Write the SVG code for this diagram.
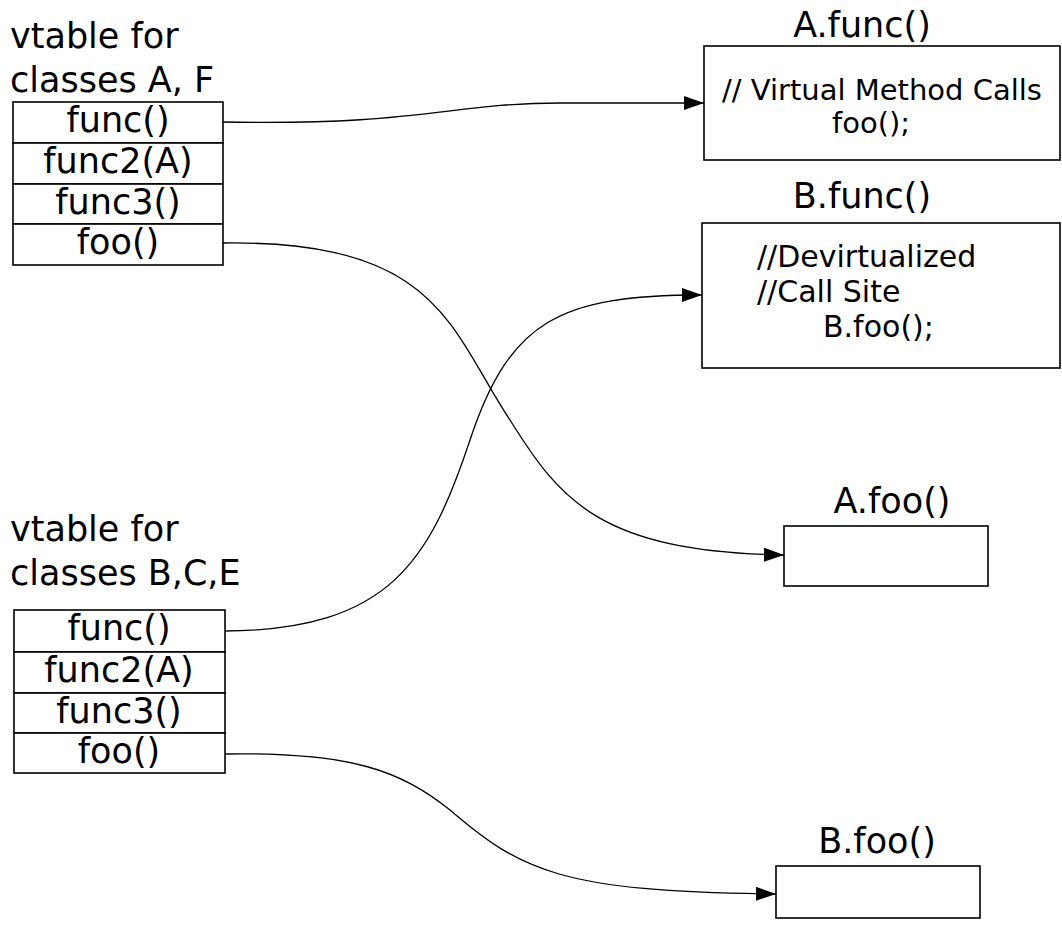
<svg xmlns="http://www.w3.org/2000/svg" width="1062" height="925" viewBox="0 0 1062 925">
<style>
text{font-family:"DejaVu Sans","Liberation Sans",sans-serif;fill:#000}
.t{font-size:35px}
.c{text-anchor:middle}
.box{fill:#fff;stroke:#000;stroke-width:1.6}
.con{fill:none;stroke:#000;stroke-width:1.3}
.b1{font-size:29px}
.b2{font-size:30px}
</style>
<defs>
<marker id="ah" viewBox="0 0 20 14" refX="20" refY="7" markerWidth="20" markerHeight="14" markerUnits="userSpaceOnUse" orient="auto">
<path d="M0,0 L20,7 L0,14 Z" fill="#000"/>
</marker>
</defs>
<rect width="1062" height="925" fill="#fff"/>
<g id="vtableAF">
<text class="t" x="10" y="48">vtable for</text>
<text class="t" x="10" y="92">classes A, F</text>
<rect class="box" x="13" y="102" width="210" height="41"/>
<rect class="box" x="13" y="143" width="210" height="41"/>
<rect class="box" x="13" y="184" width="210" height="40"/>
<rect class="box" x="13" y="224" width="210" height="41"/>
<text class="t c" x="118" y="132">func()</text>
<text class="t c" x="118" y="173">func2(A)</text>
<text class="t c" x="118" y="214">func3()</text>
<text class="t c" x="118" y="254">foo()</text>
</g>
<g id="vtableBCE">
<text class="t" x="10" y="541">vtable for</text>
<text class="t" x="10" y="585">classes B,C,E</text>
<rect class="box" x="14" y="610" width="211" height="42"/>
<rect class="box" x="14" y="652" width="211" height="41"/>
<rect class="box" x="14" y="693" width="211" height="40"/>
<rect class="box" x="14" y="733" width="211" height="40"/>
<text class="t c" x="119" y="640">func()</text>
<text class="t c" x="119" y="682">func2(A)</text>
<text class="t c" x="119" y="723">func3()</text>
<text class="t c" x="119" y="763">foo()</text>
</g>
<g id="Afunc">
<text class="t c" x="862" y="37">A.func()</text>
<rect class="box" x="704" y="46" width="356" height="114"/>
<text class="b1" x="722" y="100">// Virtual Method Calls</text>
<text class="b1" x="832" y="133">foo();</text>
</g>
<g id="Bfunc">
<text class="t c" x="862" y="208">B.func()</text>
<rect class="box" x="702" y="223" width="358" height="145"/>
<text class="b2" x="757" y="267">//Devirtualized</text>
<text class="b2" x="757" y="302">//Call Site</text>
<text class="b2" x="823" y="337">B.foo();</text>
</g>
<g id="Afoo">
<text class="t c" x="892" y="513">A.foo()</text>
<rect class="box" x="784" y="526" width="204" height="60"/>
</g>
<g id="Bfoo">
<text class="t c" x="877" y="853">B.foo()</text>
<rect class="box" x="776" y="866" width="204" height="52"/>
</g>
<g id="connectors">
<path class="con" marker-end="url(#ah)" d="M223,122 C420,126 450,103 560,103 L704,103"/>
<path class="con" marker-end="url(#ah)" d="M223,243 C440,240 450,330 510,420 C560,500 600,552 784,555"/>
<path class="con" marker-end="url(#ah)" d="M225,631 C390,630 430,560 470,440 C510,320 560,295 702,295"/>
<path class="con" marker-end="url(#ah)" d="M225,754 C350,752 400,770 450,810 C520,870 560,892 776,894"/>
</g>
</svg>
